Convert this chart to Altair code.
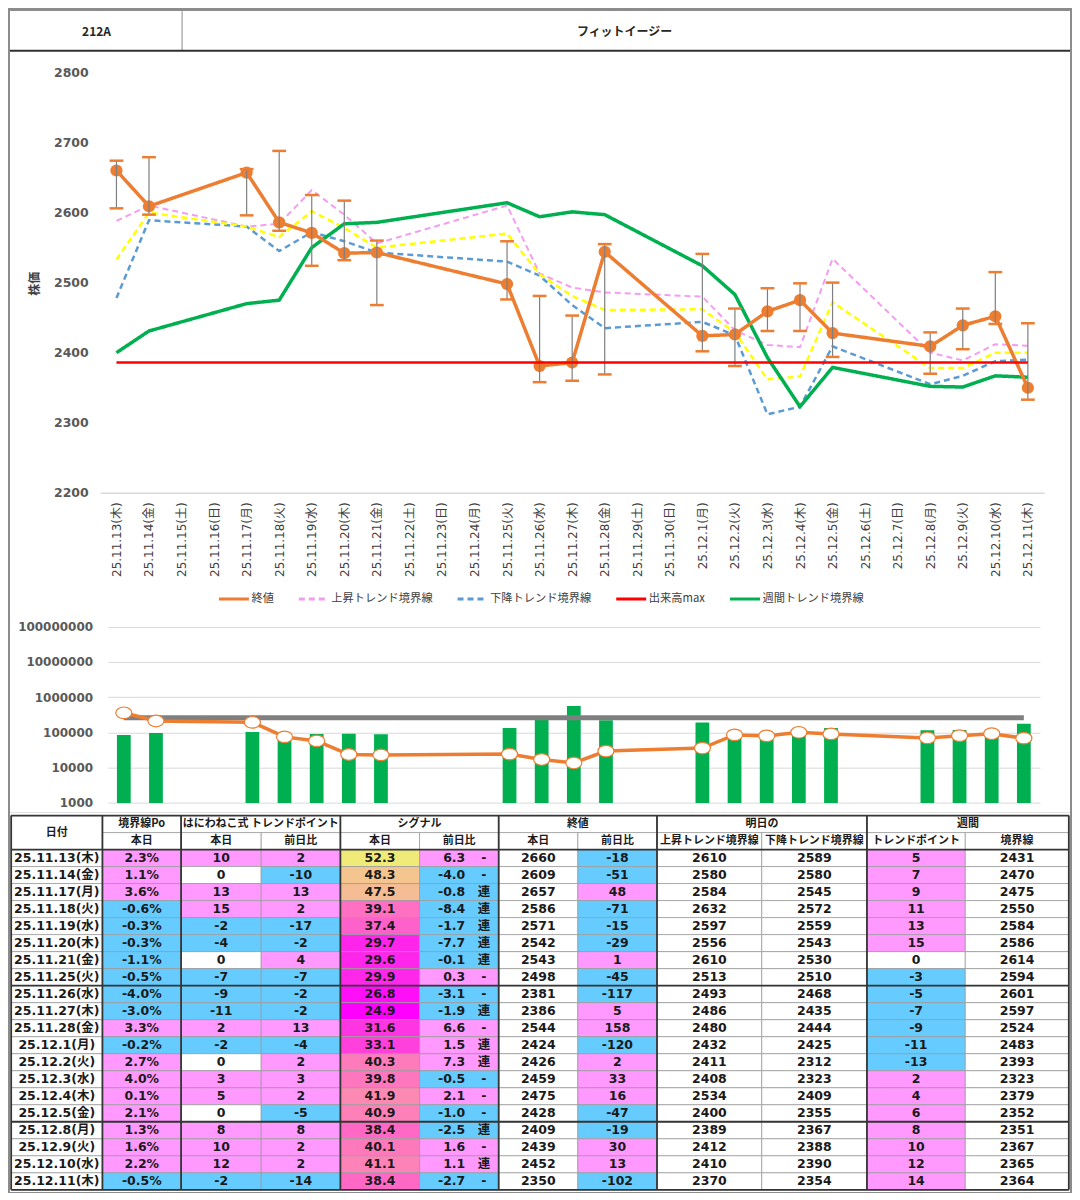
import altair as alt
import pandas as pd

# ---------------- data ----------------
all_dates = ['25.11.13(木)', '25.11.14(金)', '25.11.15(土)', '25.11.16(日)', '25.11.17(月)',
             '25.11.18(火)', '25.11.19(水)', '25.11.20(木)', '25.11.21(金)', '25.11.22(土)',
             '25.11.23(日)', '25.11.24(月)', '25.11.25(火)', '25.11.26(水)', '25.11.27(木)',
             '25.11.28(金)', '25.11.29(土)', '25.11.30(日)', '25.12.1(月)', '25.12.2(火)',
             '25.12.3(水)', '25.12.4(木)', '25.12.5(金)', '25.12.6(土)', '25.12.7(日)',
             '25.12.8(月)', '25.12.9(火)', '25.12.10(水)', '25.12.11(木)']
trade_dates = ['25.11.13(木)', '25.11.14(金)', '25.11.17(月)', '25.11.18(火)', '25.11.19(水)',
               '25.11.20(木)', '25.11.21(金)', '25.11.25(火)', '25.11.26(水)', '25.11.27(木)',
               '25.11.28(金)', '25.12.1(月)', '25.12.2(火)', '25.12.3(水)', '25.12.4(木)',
               '25.12.5(金)', '25.12.8(月)', '25.12.9(火)', '25.12.10(水)', '25.12.11(木)']

close = [2660, 2609, 2657, 2586, 2571, 2542, 2543, 2498, 2381, 2386,
         2544, 2424, 2426, 2459, 2475, 2428, 2409, 2439, 2452, 2350]
high = [2674, 2679, 2662, 2688, 2625, 2617, 2560, 2559, 2481, 2453,
        2555, 2541, 2463, 2492, 2499, 2500, 2429, 2463, 2515, 2442]
low = [2606, 2597, 2596, 2574, 2524, 2532, 2468, 2476, 2358, 2360,
       2369, 2402, 2381, 2431, 2431, 2394, 2370, 2405, 2441, 2333]
up_line = [2588, 2610, 2580, 2584, 2632, 2597, 2556, 2610, 2513, 2493,
           2486, 2480, 2432, 2411, 2408, 2534, 2400, 2389, 2412, 2410]
down_line = [2478, 2589, 2580, 2545, 2572, 2559, 2543, 2530, 2510, 2468,
             2435, 2444, 2425, 2312, 2323, 2409, 2355, 2367, 2388, 2390]
mid_line = [2533, 2600, 2580, 2565, 2602, 2578, 2550, 2570, 2512, 2481,
            2461, 2462, 2429, 2362, 2366, 2472, 2378, 2378, 2400, 2400]
weekly_line = [2400, 2431, 2470, 2475, 2550, 2584, 2586, 2614, 2594, 2601,
               2597, 2524, 2483, 2393, 2323, 2379, 2352, 2351, 2367, 2365]
vol_max_price = [2386, 2386, 2386, 2386, 2386, 2386, 2386, 2386, 2386, 2386,
                 2386, 2386, 2386, 2386, 2386, 2386, 2386, 2386, 2386, 2386]

volume = [85000, 97000, 103000, 80000, 90000, 92000, 89000, 134000, 240000, 560000,
          220000, 190000, 85000, 80000, 97000, 134000, 115000, 118000, 105000, 175000]
vol_line = [361000, 211000, 194000, 74700, 57500, 23700, 23000, 24300, 17100, 13600,
            29500, 35900, 85000, 79700, 101000, 90700, 70000, 81000, 92000, 68700]
vol_ref = [261000, 261000, 261000, 261000, 261000, 261000, 261000, 261000, 261000, 261000,
           261000, 261000, 261000, 261000, 261000, 261000, 261000, 261000, 261000, 261000]

po = [2.3, 1.1, 3.6, -0.6, -0.3, -0.3, -1.1, -0.5, -4.0, -3.0,
      3.3, -0.2, 2.7, 4.0, 0.1, 2.1, 1.3, 1.6, 2.2, -0.5]
tp = [10, 0, 13, 15, -2, -4, 0, -7, -9, -11, 2, -2, 0, 3, 5, 0, 8, 10, 12, -2]
tp_diff = [2, -10, 13, 2, -17, -2, 4, -7, -2, -2, 13, -4, 2, 3, 2, -5, 8, 2, 2, -14]
sig = [52.3, 48.3, 47.5, 39.1, 37.4, 29.7, 29.6, 29.9, 26.8, 24.9,
       31.6, 33.1, 40.3, 39.8, 41.9, 40.9, 38.4, 40.1, 41.1, 38.4]
sig_diff = [6.3, -4.0, -0.8, -8.4, -1.7, -7.7, -0.1, 0.3, -3.1, -1.9,
            6.6, 1.5, 7.3, -0.5, 2.1, -1.0, -2.5, 1.6, 1.1, -2.7]
sig_mark = ['-', '-', '連', '連', '連', '連', '連', '-', '-', '連',
            '-', '連', '連', '-', '-', '-', '連', '-', '連', '-']
close_diff = [-18, -51, 48, -71, -15, -29, 1, -45, -117, 5,
              158, -120, 2, 33, 16, -47, -19, 30, 13, -102]
next_up = [2610, 2580, 2584, 2632, 2597, 2556, 2610, 2513, 2493, 2486,
           2480, 2432, 2411, 2408, 2534, 2400, 2389, 2412, 2410, 2370]
next_down = [2589, 2580, 2545, 2572, 2559, 2543, 2530, 2510, 2468, 2435,
             2444, 2425, 2312, 2323, 2409, 2355, 2367, 2388, 2390, 2354]
week_tp = [5, 7, 9, 11, 13, 15, 0, -3, -5, -7, -9, -11, -13, 2, 4, 6, 8, 10, 12, 14]
week_line = [2431, 2470, 2475, 2550, 2584, 2586, 2614, 2594, 2601, 2597,
             2524, 2483, 2393, 2323, 2379, 2352, 2351, 2367, 2365, 2364]

code_label = '212A'
name_label = 'フィットイージー'
S_CLOSE, S_UP, S_DN, S_MAX, S_WK = '終値', '上昇トレンド境界線', '下降トレンド境界線', '出来高max', '週間トレンド境界線'
head_groups = ['境界線Po', 'はにわねこ式 トレンドポイント', 'シグナル', '終値', '明日の', '週間']
head_sub = ['本日', '本日', '前日比', '本日', '前日比', '本日', '前日比',
            '上昇トレンド境界線', '下降トレンド境界線', 'トレンドポイント', '境界線']

# ---------------- layout ----------------
WP = 1062
REF_W = 1078
SX = WP / REF_W
SY = 1183 / 1200


def sx(r):
    return r * SX


def sy(r):
    return r * SY


FONT = 'DejaVu Sans, Noto Sans CJK JP, sans-serif'
JFONT = 'Noto Sans CJK JP, DejaVu Sans, sans-serif'
ORANGE = '#ED7D31'

HH, HP, HV, HT = 41, 562, 200, 380   # panel heights (sum 1183)

# ---------------- header ----------------
hx = alt.Scale(domain=[0, REF_W], range=[0, WP])
hy = alt.Scale(domain=[0, 42], range=[0, HH])
hdr_txt = pd.DataFrame({'x': [88, 625], 'y': [21, 21], 't': [code_label, name_label]})
hdr_div = pd.DataFrame({'x': [175], 'x2': [175], 'y': [0], 'y2': [40]})
hdr_bot = pd.DataFrame({'x': [0], 'x2': [REF_W], 'y': [40.6], 'y2': [40.6]})


def hrule(df, color, w):
    return alt.Chart(df).mark_rule(color=color, strokeWidth=w).encode(
        x=alt.X('x:Q', scale=hx, axis=None), x2='x2', y=alt.Y('y:Q', scale=hy, axis=None), y2='y2')


header = alt.layer(
    hrule(hdr_div, '#8c8c8c', 1),
    hrule(hdr_bot, '#303030', 2),
    alt.Chart(hdr_txt).mark_text(font=JFONT, fontSize=12, fontWeight='bold', color='#262626').encode(
        x=alt.X('x:Q', scale=hx, axis=None), y=alt.Y('y:Q', scale=hy, axis=None), text='t:N'),
).properties(width=WP, height=HH)

# ---------------- price chart ----------------
P0 = 42
px_scale = alt.Scale(type='point', domain=all_dates, range=[sx(91.7), sx(1051.7)], padding=0.5)
py_scale = alt.Scale(domain=[2200, 2800], range=[sy(490 - P0), sy(62.7 - P0)], zero=False, nice=False)
x_axis = alt.Axis(orient='bottom', offset=-(HP - sy(490 - P0)), labelAngle=-90, labelFont=FONT,
                  labelFontSize=12, labelColor='#404040', ticks=False, domainColor='#d9d9d9',
                  domainWidth=1.5, grid=False, title=None, labelPadding=9, labelOverlap=False)
y_axis = alt.Axis(orient='left', offset=-sx(79.5), values=[2200, 2300, 2400, 2500, 2600, 2700, 2800],
                  format='d', ticks=False, domain=False, grid=False, labelFont=FONT, labelFontSize=12.5,
                  labelFontWeight='bold', labelColor='#595959', labelPadding=0,
                  title='株価', titleFont=JFONT, titleFontSize=12, titleFontWeight='bold',
                  titleColor='#404040', titleAngle=270, titleX=sx(32) - sx(79.5), titleY=sy(277 - P0))
X = alt.X('date:N', scale=px_scale, axis=x_axis, sort=all_dates)

series_names = [S_CLOSE, S_UP, S_DN, S_MAX, S_WK]
color_scale = alt.Scale(domain=series_names, range=[ORANGE, '#F49CF0', '#5B9BD5', '#FF0000', '#00B050'])
dash_scale = alt.Scale(domain=series_names, range=[[1, 0], [6, 4], [6, 4], [1, 0], [1, 0]])
legend = alt.Legend(orient='none', legendX=sx(211), legendY=sy(596 - P0) - 15, direction='horizontal',
                    columns=5, title=None, symbolType='stroke', symbolSize=900, symbolStrokeWidth=3,
                    labelFont=JFONT, labelFontSize=11.3, labelColor='#404040', columnPadding=18,
                    labelOffset=1)

rows = []
for name, vals in [(S_CLOSE, close), (S_UP, up_line), (S_DN, down_line), (S_MAX, vol_max_price),
                   (S_WK, weekly_line)]:
    for d, v in zip(trade_dates, vals):
        rows.append({'date': d, 'series': name, 'value': v})
long_df = pd.DataFrame(rows)
pdf = pd.DataFrame({'date': trade_dates, 'close': close, 'high': high, 'low': low, 'mid': mid_line})


def series_line(name, width):
    return alt.Chart(long_df).transform_filter(
        alt.FieldEqualPredicate(field='series', equal=name)
    ).mark_line(strokeWidth=width).encode(
        x=X, y=alt.Y('value:Q', scale=py_scale, axis=y_axis),
        color=alt.Color('series:N', scale=color_scale, legend=legend),
        strokeDash=alt.StrokeDash('series:N', scale=dash_scale, legend=legend),
    )


price = alt.layer(
    series_line(S_UP, 2),
    series_line(S_DN, 2.5),
    alt.Chart(pdf).mark_line(color='#FFFF00', strokeDash=[6, 4], strokeWidth=2.5).encode(
        x=X, y=alt.Y('mid:Q', scale=py_scale, axis=y_axis)),
    series_line(S_WK, 3.5),
    series_line(S_CLOSE, 3.5),
    alt.Chart(pdf).mark_circle(color=ORANGE, size=150, opacity=1).encode(
        x=X, y=alt.Y('close:Q', scale=py_scale, axis=y_axis)),
    alt.Chart(pdf).mark_rule(color='#7f7f7f', strokeWidth=1.2).encode(
        x=X, y=alt.Y('low:Q', scale=py_scale, axis=y_axis), y2='high:Q'),
    alt.Chart(pdf).mark_tick(color=ORANGE, size=sx(14), thickness=2.5, opacity=1).encode(
        x=X, y=alt.Y('high:Q', scale=py_scale, axis=y_axis)),
    alt.Chart(pdf).mark_tick(color=ORANGE, size=sx(14), thickness=2.5, opacity=1).encode(
        x=X, y=alt.Y('low:Q', scale=py_scale, axis=y_axis)),
    series_line(S_MAX, 2.5),
).properties(width=WP, height=HP)

# ---------------- volume chart ----------------
V0 = 612
vx_scale = alt.Scale(type='point', domain=all_dates, range=[sx(99.4), sx(1047.4)], padding=0.5)
vy_scale = alt.Scale(type='log', domain=[1000, 100000000], range=[sy(805 - V0), sy(626 - V0)], nice=False)
vy_axis = alt.Axis(orient='left', offset=-sx(84), values=[1000, 10000, 100000, 1000000, 10000000, 100000000],
                   format='d', ticks=False, domain=False, grid=True, gridColor='#d9d9d9', gridWidth=1,
                   labelFont=FONT, labelFontSize=12, labelFontWeight='bold', labelColor='#595959',
                   labelPadding=0, title=None)
VX = alt.X('date:N', scale=vx_scale, axis=None, sort=all_dates)
vdf = pd.DataFrame({'date': trade_dates, 'vol': volume, 'line': vol_line, 'ref': vol_ref})
ellipse = 'M-1,0A1,0.72,0,1,0,1,0A1,0.72,0,1,0,-1,0Z'
vol = alt.layer(
    alt.Chart(vdf).mark_bar(color='#00B050', size=sx(14)).encode(
        x=VX, y=alt.Y('vol:Q', scale=vy_scale, axis=vy_axis), y2=alt.datum(1000)),
    alt.Chart(vdf).mark_line(color='#7f7f7f', strokeWidth=5).encode(
        x=VX, y=alt.Y('ref:Q', scale=vy_scale, axis=vy_axis)),
    alt.Chart(vdf).mark_line(color=ORANGE, strokeWidth=3.5).encode(
        x=VX, y=alt.Y('line:Q', scale=vy_scale, axis=vy_axis)),
    alt.Chart(vdf).mark_point(shape=ellipse, filled=True, fill='white', stroke=ORANGE, strokeWidth=1.2,
                              size=260, opacity=1).encode(
        x=VX, y=alt.Y('line:Q', scale=vy_scale, axis=vy_axis)),
).properties(width=WP, height=HV)

# ---------------- table ----------------
tx = alt.Scale(domain=[0, REF_W], range=[0, WP])
ty = alt.Scale(domain=[815, 1200], range=[0, HT])
COLX = [1.2, 94, 174, 255.5, 336, 416.5, 497, 577.5, 658, 764.5, 871.5, 971.5, 1076.8]
GROUPS = [(1, 2), (2, 4), (4, 6), (6, 8), (8, 10), (10, 12)]
R_TOP, R_MID, R_HEAD = 818, 835.3, 852.5
ROW_H = 17.27


def sgn(v):
    return 'pos' if v > 0 else ('neg' if v < 0 else 'zero')


cells, sigcells, ctext, htext, rtext, mtext = [], [], [], [], [], []
cells.append(dict(x1=COLX[0], x2=COLX[1], y1=R_TOP, y2=R_HEAD, cat='plain'))
htext.append(dict(x=(COLX[0] + COLX[1]) / 2, y=(R_TOP + R_HEAD) / 2, t='日付'))
for (a, b), g in zip(GROUPS, head_groups):
    cells.append(dict(x1=COLX[a], x2=COLX[b], y1=R_TOP, y2=R_MID, cat='plain'))
    htext.append(dict(x=(COLX[a] + COLX[b]) / 2, y=(R_TOP + R_MID) / 2, t=g))
for c, s in enumerate(head_sub, start=1):
    cells.append(dict(x1=COLX[c], x2=COLX[c + 1], y1=R_MID, y2=R_HEAD, cat='plain'))
    htext.append(dict(x=(COLX[c] + COLX[c + 1]) / 2, y=(R_MID + R_HEAD) / 2, t=s))
for i in range(20):
    y1 = R_HEAD + i * ROW_H
    y2 = y1 + ROW_H
    yc = (y1 + y2) / 2
    row = [
        (trade_dates[i], 'plain'),
        (f'{po[i]:.1f}%', sgn(po[i])),
        (str(tp[i]), sgn(tp[i])),
        (str(tp_diff[i]), sgn(tp_diff[i])),
        (f'{sig[i]:.1f}', 'sig'),
        (None, sgn(sig_diff[i])),
        (str(close[i]), 'plain'),
        (str(close_diff[i]), sgn(close_diff[i])),
        (str(next_up[i]), 'plain'),
        (str(next_down[i]), 'plain'),
        (str(week_tp[i]), sgn(week_tp[i])),
        (str(week_line[i]), 'plain'),
    ]
    for c, (t, cat) in enumerate(row):
        rect = dict(x1=COLX[c], x2=COLX[c + 1], y1=y1, y2=y2, cat=cat)
        if cat == 'sig':
            sigcells.append(dict(rect, v=sig[i]))
        else:
            cells.append(rect)
        if t is not None:
            ctext.append(dict(x=(COLX[c] + COLX[c + 1]) / 2, y=yc, t=t))
    rtext.append(dict(x=463, y=yc, t=f'{sig_diff[i]:.1f}'))
    mtext.append(dict(x=482, y=yc, t=sig_mark[i]))

bottom = R_HEAD + 20 * ROW_H
thick = []
for yv in [R_TOP, R_HEAD, R_HEAD + 8 * ROW_H, R_HEAD + 16 * ROW_H, bottom]:
    thick.append(dict(x1=COLX[0], x2=COLX[-1], y1=yv, y2=yv))
for xv in [COLX[0], COLX[1], COLX[2], COLX[4], COLX[6], COLX[8], COLX[10], COLX[12]]:
    thick.append(dict(x1=xv, x2=xv, y1=R_TOP, y2=bottom))

cells_df = pd.DataFrame(cells)
sig_df = pd.DataFrame(sigcells)
TX = alt.X('x:Q', scale=tx, axis=None)
TY = alt.Y('y:Q', scale=ty, axis=None)


def rect_enc():
    return dict(x=alt.X('x1:Q', scale=tx, axis=None), x2='x2:Q',
                y=alt.Y('y1:Q', scale=ty, axis=None), y2='y2:Q')


table = alt.layer(
    alt.Chart(cells_df).mark_rect(stroke='#9c9c9c', strokeWidth=0.8).encode(
        fill=alt.Fill('cat:N', scale=alt.Scale(domain=['pos', 'neg', 'zero', 'plain'],
                                               range=['#FF99FF', '#66CCFF', '#FFFFFF', '#FFFFFF']),
                      legend=None),
        **rect_enc()),
    alt.Chart(sig_df).mark_rect(stroke='#9c9c9c', strokeWidth=0.8).encode(
        fill=alt.Fill('v:Q', scale=alt.Scale(domain=[24.9, 38.75, 52.3], interpolate='rgb',
                                             range=['#FF00FF', '#FF6CC4', '#F0EA78']), legend=None),
        **rect_enc()),
    alt.Chart(pd.DataFrame(thick)).mark_rule(color='#353535', strokeWidth=1.8).encode(**rect_enc()),
    alt.Chart(pd.DataFrame(htext)).mark_text(font=JFONT, fontSize=11, fontWeight='bold',
                                             color='#1a1a1a').encode(x=TX, y=TY, text='t:N'),
    alt.Chart(pd.DataFrame(ctext)).mark_text(font=FONT, fontSize=12.5, fontWeight='bold',
                                             color='#1a1a1a').encode(x=TX, y=TY, text='t:N'),
    alt.Chart(pd.DataFrame(rtext)).mark_text(font=FONT, fontSize=12.5, fontWeight='bold', align='right',
                                             color='#1a1a1a').encode(x=TX, y=TY, text='t:N'),
    alt.Chart(pd.DataFrame(mtext)).mark_text(font=FONT, fontSize=12.5, fontWeight='bold',
                                             color='#1a1a1a').encode(x=TX, y=TY, text='t:N'),
).resolve_scale(fill='independent').properties(width=WP, height=HT)

chart = alt.vconcat(header, price, vol, table, spacing=0).resolve_scale(
    color='independent', fill='independent', strokeDash='independent'
).resolve_legend(
    color='independent', fill='independent', strokeDash='independent'
).properties(
    padding={'left': 1, 'right': 1, 'top': 1, 'bottom': 0},
    background='#8c8c8c',
).configure_view(stroke=None, fill='white')

chart.save('out.html', embed_options={'renderer': 'svg', 'actions': False})
